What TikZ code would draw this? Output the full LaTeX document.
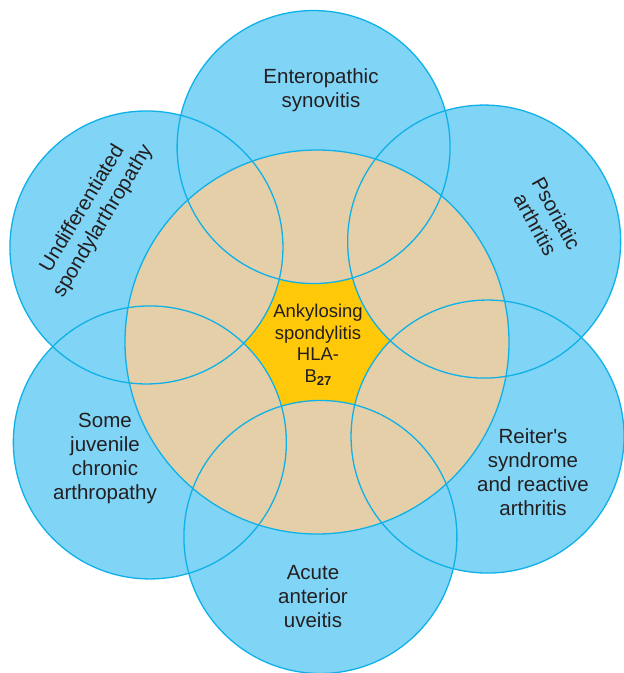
\documentclass[tikz,border=0pt]{standalone}
\usepackage{fontspec}
\setmainfont{Liberation Sans}
\usetikzlibrary{calc}
\definecolor{cblue}{HTML}{80D4F6}
\definecolor{cline}{HTML}{0EB1E8}
\definecolor{ctan}{HTML}{E5CFA8}
\definecolor{cyel}{HTML}{FFC90A}
\definecolor{ctext}{HTML}{231F20}
\begin{document}
\begin{tikzpicture}[x=1pt,y=-1pt,
  lab/.style={align=center, text=ctext, inner sep=0pt, font=\fontsize{20.5}{24}\selectfont},
  clab/.style={align=center, text=ctext, inner sep=0pt, font=\fontsize{18.5}{21.5}\selectfont},
  ring/.style={draw=cline, line width=1.3pt}]
\useasboundingbox (0,0) rectangle (624,673);
\coordinate (C) at (317,342);
\foreach \a/\n in {89/t,149/ul,209/ll,269/b,329/lr,29/ur}
  \coordinate (\n) at ($(C)+(\a:195)$);
% outer circles
\foreach \n in {t,ul,ll,b,lr,ur}
  \fill[cblue] (\n) circle[radius=136.5];
% big circle
\fill[cyel] (C) circle[radius=192];
\begin{scope}
  \clip (C) circle[radius=192];
  \foreach \n in {t,ul,ll,b,lr,ur}
    \fill[ctan] (\n) circle[radius=136.5];
\end{scope}
% outlines
\foreach \n in {t,ul,ll,b,lr,ur}
  \draw[ring] (\n) circle[radius=136.5];
\draw[ring] (C) circle[radius=192];
% labels
\node[lab] (tl) at (321,90) {Enteropathic\\synovitis};
\node[lab, rotate=-61] (url) at (546,219) {Psoriatic\\arthritis};
\node[lab, rotate=59] (ull) at (93,215) {Undifferentiated\\spondylarthropathy};
\node[lab] (lll) at (105,458) {Some\\juvenile\\chronic\\arthropathy};
\node[lab] (lrl) at (533,472) {Reiter\textquotesingle s\\syndrome\\and reactive\\arthritis};
\node[lab] (bl) at (313,597) {Acute\\anterior\\uveitis};
\node[clab] (cl) at (318,345) {Ankylosing\\spondylitis\\HLA-\\B\raisebox{-0.35ex}{\fontsize{13}{13}\selectfont\bfseries 27}};
\end{tikzpicture}
\end{document}
